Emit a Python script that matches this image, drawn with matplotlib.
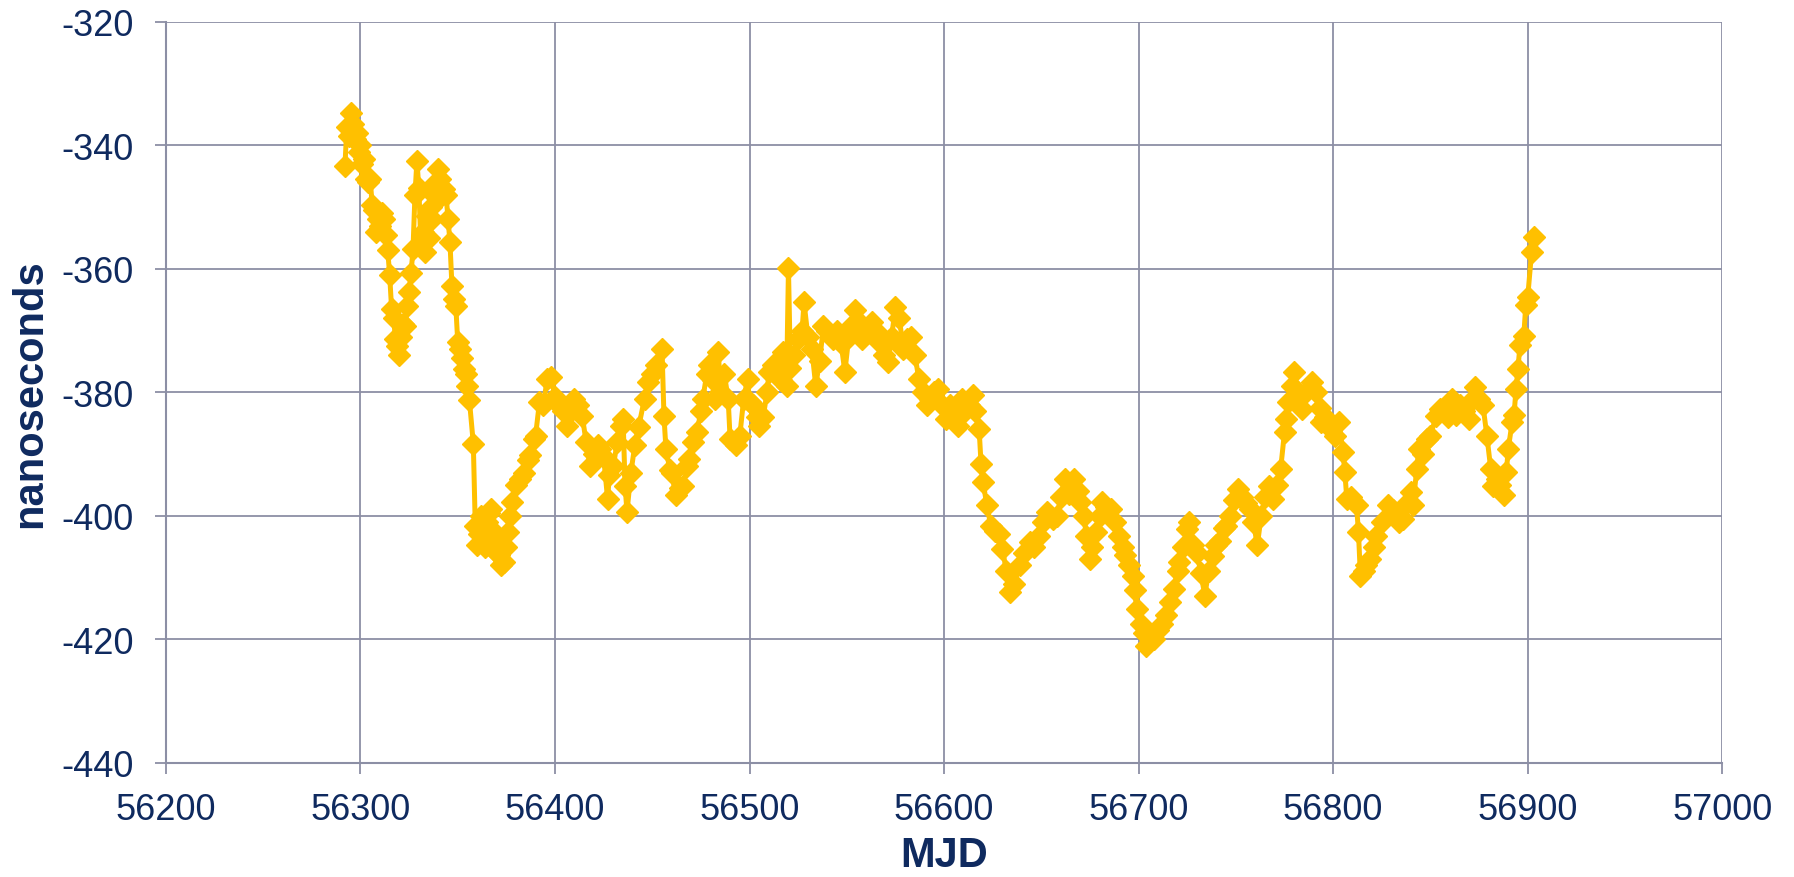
import matplotlib
matplotlib.use("Agg")
import matplotlib.pyplot as plt

plt.rcParams['font.family'] = ['Liberation Sans', 'DejaVu Sans']

mjd = [
    56292, 56293, 56294, 56295, 56296, 56297, 56298, 56299, 56300, 56301,
    56302, 56303, 56304, 56305, 56306, 56307, 56308, 56309, 56310, 56311,
    56312, 56313, 56314, 56315, 56316, 56317, 56318, 56319, 56320, 56321,
    56322, 56323, 56324, 56325, 56326, 56327, 56328, 56329, 56330, 56331,
    56332, 56333, 56334, 56335, 56336, 56337, 56338, 56339, 56340, 56341,
    56342, 56343, 56344, 56345, 56346, 56347, 56348, 56349, 56350, 56351,
    56352, 56353, 56354, 56355, 56356, 56358, 56359, 56360, 56361, 56362,
    56363, 56364, 56365, 56366, 56367, 56368, 56369, 56370, 56371, 56372,
    56373, 56374, 56375, 56376, 56377, 56378, 56380, 56382, 56384, 56386,
    56387, 56389, 56390, 56392, 56394, 56396, 56398, 56400, 56402, 56404,
    56406, 56408, 56410, 56412, 56414, 56416, 56418, 56420, 56422, 56423,
    56425, 56427, 56428, 56430, 56432, 56434, 56435, 56436, 56437, 56439,
    56441, 56443, 56446, 56448, 56450, 56452, 56455, 56456, 56457, 56459,
    56460, 56462, 56464, 56466, 56468, 56469, 56471, 56473, 56475, 56476,
    56478, 56479, 56481, 56482, 56484, 56485, 56487, 56489, 56490, 56492,
    56493, 56495, 56497, 56499, 56500, 56502, 56504, 56505, 56507, 56509,
    56510, 56512, 56514, 56516, 56517, 56519, 56520, 56521, 56523, 56525,
    56527, 56528, 56530, 56532, 56534, 56536, 56538, 56540, 56543, 56545,
    56547, 56549, 56551, 56553, 56554, 56556, 56558, 56560, 56563, 56565,
    56567, 56569, 56571, 56573, 56575, 56577, 56579, 56581, 56583, 56585,
    56587, 56589, 56591, 56593, 56595, 56597, 56599, 56601, 56603, 56605,
    56607, 56609, 56611, 56613, 56615, 56616, 56618, 56619, 56620, 56622,
    56624, 56626, 56628, 56630, 56632, 56634, 56636, 56639, 56641, 56644,
    56646, 56649, 56651, 56653, 56656, 56658, 56660, 56662, 56664, 56667,
    56669, 56670, 56672, 56673, 56675, 56676, 56678, 56680, 56681, 56683,
    56686, 56688, 56690, 56692, 56693, 56695, 56697, 56698, 56699, 56701,
    56703, 56704, 56706, 56708, 56710, 56712, 56714, 56716, 56718, 56720,
    56721, 56723, 56725, 56726, 56728, 56730, 56732, 56734, 56736, 56738,
    56740, 56742, 56744, 56745, 56747, 56749, 56751, 56753, 56755, 56757,
    56759, 56761, 56763, 56765, 56767, 56769, 56771, 56773, 56775, 56776,
    56777, 56779, 56780, 56782, 56784, 56786, 56789, 56791, 56793, 56794,
    56796, 56799, 56801, 56803, 56805, 56806, 56807, 56809, 56812, 56813,
    56814, 56816, 56817, 56819, 56821, 56822, 56825, 56828, 56831, 56834,
    56836, 56838, 56840, 56841, 56843, 56844, 56846, 56848, 56850, 56853,
    56855, 56857, 56859, 56861, 56863, 56865, 56867, 56870, 56872, 56873,
    56875, 56877, 56879, 56881, 56882, 56884, 56886, 56888, 56889, 56890,
    56892, 56893, 56894, 56895, 56896, 56898, 56899, 56900, 56902, 56903,
]

ns = [
    -343.4, -337.0, -338.5, -334.8, -336.5, -339.0, -338.0, -341.0, -340.0, -343.0,
    -342.2, -345.5, -346.0, -345.4, -349.7, -350.5, -354.0, -352.0, -353.0, -351.0,
    -351.9, -354.5, -357.0, -361.0, -366.5, -368.0, -371.3, -372.5, -374.0, -371.0,
    -369.0, -369.2, -366.0, -363.8, -360.7, -356.8, -348.1, -342.5, -346.9, -355.7,
    -354.0, -357.3, -351.4, -355.0, -350.0, -352.0, -348.0, -346.0, -343.8, -345.4,
    -348.0, -347.0, -348.1, -351.9, -355.7, -362.7, -364.9, -366.0, -371.9, -373.0,
    -374.5, -376.2, -377.0, -378.9, -381.3, -388.3, -401.6, -404.8, -403.0, -400.0,
    -402.0, -405.0, -401.0, -399.5, -398.9, -402.5, -404.0, -406.0, -406.4, -408.0,
    -405.0, -407.5, -405.0, -402.6, -400.0, -397.8, -395.0, -394.0, -393.0, -391.0,
    -390.2, -387.5, -387.0, -381.6, -382.0, -377.8, -377.5, -380.8, -382.0, -383.0,
    -385.4, -383.0, -381.0, -382.0, -383.8, -388.1, -391.9, -390.0, -388.5, -389.1,
    -390.5, -397.2, -393.4, -391.9, -388.0, -385.5, -384.3, -395.1, -399.4, -393.0,
    -388.6, -385.6, -381.0, -378.3, -377.0, -375.6, -373.0, -383.8, -389.1, -392.5,
    -393.0, -396.7, -395.5, -395.1, -392.0, -390.8, -388.0, -386.4, -383.0, -381.0,
    -377.0, -375.6, -378.0, -381.0, -373.5, -379.9, -377.0, -381.0, -387.5, -388.0,
    -388.6, -387.0, -381.0, -377.8, -381.6, -382.1, -384.0, -385.4, -384.0, -380.0,
    -376.7, -375.6, -377.0, -378.0, -373.5, -378.9, -359.9, -376.0, -374.0, -371.3,
    -370.0, -365.4, -371.0, -373.0, -378.9, -375.0, -369.2, -370.0, -371.3, -370.0,
    -372.0, -376.7, -371.0, -369.0, -366.7, -368.5, -371.3, -370.0, -368.6, -370.0,
    -372.0, -374.0, -375.1, -371.0, -366.2, -368.0, -373.0, -371.3, -371.0, -374.0,
    -377.8, -380.0, -382.1, -381.0, -380.0, -379.4, -382.0, -384.3, -382.0, -383.5,
    -385.4, -381.0, -383.0, -382.0, -380.5, -383.0, -385.9, -391.6, -394.5, -398.3,
    -401.6, -402.5, -403.0, -405.3, -409.0, -412.4, -411.0, -408.0, -406.0, -404.3,
    -405.0, -403.2, -401.0, -399.4, -400.5, -400.0, -397.0, -394.0, -396.5, -394.0,
    -396.0, -397.8, -400.0, -403.2, -407.0, -405.0, -402.6, -400.0, -397.8, -398.5,
    -398.9, -401.0, -403.2, -405.0, -406.4, -408.0, -409.7, -412.0, -415.1, -417.5,
    -419.0, -421.0, -420.0, -419.9, -418.5, -417.5, -416.1, -414.0, -411.8, -409.0,
    -407.5, -405.0, -402.1, -401.0, -404.8, -406.0, -409.3, -412.9, -409.0, -406.5,
    -404.8, -404.0, -402.0, -401.6, -400.0, -397.5, -395.6, -397.0, -398.0, -398.9,
    -401.0, -404.8, -400.0, -397.0, -395.1, -397.3, -395.0, -392.4, -386.4, -384.3,
    -381.6, -379.0, -376.7, -380.0, -382.7, -380.0, -378.3, -380.0, -382.5, -384.8,
    -384.0, -386.0, -387.0, -384.8, -389.7, -392.9, -397.2, -397.0, -398.3, -402.6,
    -409.7, -409.0, -408.0, -407.0, -405.0, -403.2, -401.0, -398.3, -399.0, -401.0,
    -400.5, -398.0, -396.2, -398.3, -392.4, -389.2, -390.0, -387.5, -387.0, -383.8,
    -382.7, -383.0, -384.0, -381.0, -383.6, -382.0, -383.0, -384.3, -381.0, -379.2,
    -381.0, -382.1, -387.0, -392.4, -395.1, -394.0, -395.0, -396.7, -392.9, -389.2,
    -384.8, -383.6, -379.4, -376.2, -372.4, -370.8, -365.9, -364.6, -357.3, -354.9,
]

x_ticks = [56200, 56300, 56400, 56500, 56600, 56700, 56800, 56900, 57000]
y_ticks = [-440, -420, -400, -380, -360, -340, -320]

line_color = '#FFC000'
text_color = '#0F2A5F'
grid_color = '#8C8FA5'

fig = plt.figure(figsize=(17.94, 8.78), dpi=100)
ax = fig.add_axes([0.0925, 0.130, 0.8675, 0.844])

ax.plot(mjd, ns, color=line_color, lw=3.6, marker='D', ms=11.5,
        mec=line_color, mfc=line_color, mew=1, zorder=3, clip_on=False)

ax.set_xlim(56200, 57000)
ax.set_ylim(-440, -320)
ax.set_xticks(x_ticks)
ax.set_yticks(y_ticks)
ax.set_xticklabels([str(v) for v in x_ticks])
ax.set_yticklabels([str(v) for v in y_ticks])

ax.grid(True, color=grid_color, lw=1.3, zorder=0)
ax.set_axisbelow(True)
for side in ['top', 'right']:
    ax.spines[side].set_visible(False)
for side in ['left', 'bottom']:
    ax.spines[side].set_color(grid_color)
    ax.spines[side].set_linewidth(1.5)

ax.tick_params(axis='both', colors=grid_color, labelcolor=text_color,
               length=8, width=1.3, labelsize=26)
ax.tick_params(axis='y', pad=15)
ax.tick_params(axis='x', pad=13)

xl = ax.set_xlabel('MJD', fontsize=30, fontweight='bold', color=text_color)
xl.set_verticalalignment('baseline')
ax.xaxis.set_label_coords(0.5, -0.139)
ax.set_ylabel('nanoseconds', fontsize=30, fontweight='bold', color=text_color, labelpad=8)

fig.savefig('out.png', dpi=100, facecolor='white')
